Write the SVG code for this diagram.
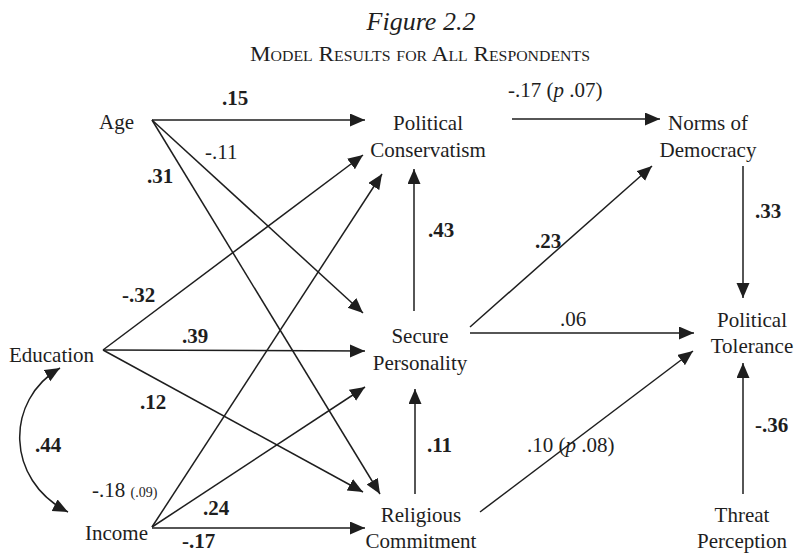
<svg xmlns="http://www.w3.org/2000/svg" width="800" height="554" viewBox="0 0 800 554">
<style>
text{font-family:"Liberation Serif","Times New Roman",serif;fill:#1e1e1e}
.n{font-size:21px;text-anchor:middle}
.l{font-size:21px}
.b{font-weight:bold}
.c line,.c path{stroke:#1e1e1e;stroke-width:1.5;fill:none}
</style>
<defs>
<marker id="ah" markerUnits="userSpaceOnUse" markerWidth="16" markerHeight="14" refX="15" refY="6.5" orient="auto-start-reverse">
<path d="M0,0 L15,6.5 L0,13 z" fill="#1e1e1e"/>
</marker>
</defs>
<rect width="800" height="554" fill="#fff"/>
<g id="title">
<text x="421" y="30" font-size="26" font-style="italic" text-anchor="middle">Figure 2.2</text>
<text x="420" y="61" font-size="22" font-variant="small-caps" text-anchor="middle" textLength="340" lengthAdjust="spacingAndGlyphs">Model Results for All Respondents</text>
</g>
<g class="c" id="connectors">
<line x1="152" y1="120" x2="365" y2="120" marker-end="url(#ah)"/>
<line x1="152" y1="120" x2="363" y2="313" marker-end="url(#ah)"/>
<line x1="152" y1="120" x2="380" y2="494" marker-end="url(#ah)"/>
<line x1="103" y1="350" x2="363" y2="155" marker-end="url(#ah)"/>
<line x1="103" y1="350" x2="365" y2="351" marker-end="url(#ah)"/>
<line x1="103" y1="350" x2="363" y2="492" marker-end="url(#ah)"/>
<line x1="152" y1="527" x2="382" y2="174" marker-end="url(#ah)"/>
<line x1="152" y1="527" x2="365" y2="387" marker-end="url(#ah)"/>
<line x1="152" y1="528" x2="365" y2="528" marker-end="url(#ah)"/>
<path d="M60,368 C5,400 5,480 68,512" marker-start="url(#ah)" marker-end="url(#ah)"/>
<line x1="414" y1="311" x2="414" y2="169" marker-end="url(#ah)"/>
<line x1="415" y1="494" x2="415" y2="389" marker-end="url(#ah)"/>
<line x1="470" y1="327" x2="652" y2="166" marker-end="url(#ah)"/>
<line x1="512" y1="119" x2="660" y2="119" marker-end="url(#ah)"/>
<line x1="470" y1="333" x2="694" y2="333" marker-end="url(#ah)"/>
<line x1="480" y1="512" x2="693" y2="351" marker-end="url(#ah)"/>
<line x1="743" y1="166" x2="743" y2="298" marker-end="url(#ah)"/>
<line x1="743" y1="494" x2="743" y2="363" marker-end="url(#ah)"/>
</g>
<g id="age"><text class="n" x="116.5" y="129">Age</text></g>
<g id="political-conservatism"><text class="n" x="428" y="130">Political</text><text class="n" x="428" y="157">Conservatism</text></g>
<g id="norms-of-democracy"><text class="n" x="708" y="130">Norms of</text><text class="n" x="708" y="157">Democracy</text></g>
<g id="education"><text class="n" x="51.5" y="362">Education</text></g>
<g id="secure-personality"><text class="n" x="420" y="343">Secure</text><text class="n" x="420" y="370">Personality</text></g>
<g id="political-tolerance"><text class="n" x="752" y="327">Political</text><text class="n" x="752" y="353">Tolerance</text></g>
<g id="income"><text class="n" x="116.5" y="540">Income</text></g>
<g id="religious-commitment"><text class="n" x="421" y="522">Religious</text><text class="n" x="421" y="548">Commitment</text></g>
<g id="threat-perception"><text class="n" x="742" y="522">Threat</text><text class="n" x="742" y="548">Perception</text></g>
<g id="labels">
<text class="l b" x="222" y="105">.15</text>
<text class="l" x="205" y="159">-.11</text>
<text class="l b" x="147" y="183">.31</text>
<text class="l b" x="122" y="302">-.32</text>
<text class="l b" x="182" y="343">.39</text>
<text class="l b" x="140" y="409">.12</text>
<text class="l b" x="35" y="452">.44</text>
<text class="l" x="92" y="497">-.18 <tspan font-size="14">(.09)</tspan></text>
<text class="l b" x="203" y="515">.24</text>
<text class="l b" x="182" y="548">-.17</text>
<text class="l" x="508" y="97">-.17 (<tspan font-style="italic">p</tspan> .07)</text>
<text class="l b" x="428" y="237">.43</text>
<text class="l b" x="535" y="248">.23</text>
<text class="l b" x="755" y="218">.33</text>
<text class="l" x="560" y="326">.06</text>
<text class="l b" x="427" y="452">.11</text>
<text class="l" x="527" y="452">.10 (<tspan font-style="italic">p</tspan> .08)</text>
<text class="l b" x="755" y="432">-.36</text>
</g>
</svg>
